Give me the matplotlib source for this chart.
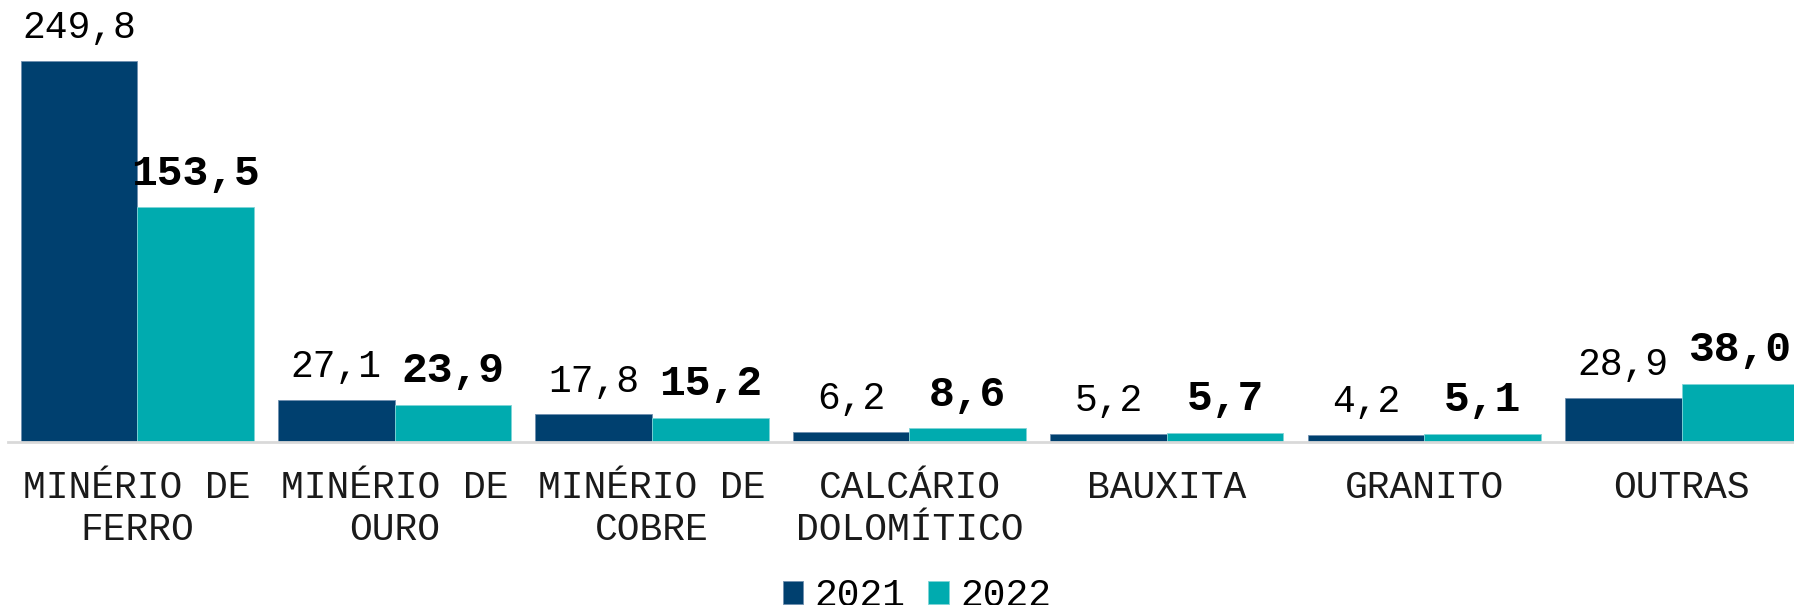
import matplotlib
matplotlib.use("Agg")
import matplotlib.pyplot as plt
import numpy as np

# Dados (milhões de toneladas)
categorias = ["MINÉRIO DE\nFERRO", "MINÉRIO DE\nOURO", "MINÉRIO DE\nCOBRE",
              "CALCÁRIO\nDOLOMÍTICO", "BAUXITA", "GRANITO", "OUTRAS"]
valores_2021 = [249.8, 27.1, 17.8, 6.2, 5.2, 4.2, 28.9]
valores_2022 = [153.5, 23.9, 15.2, 8.6, 5.7, 5.1, 38.0]
anos = ["2021", "2022"]

cor_2021 = "#00406F"
cor_2022 = "#00ABAF"
fonte = "Liberation Mono"

W, H, DPI = 1794, 605, 100
fig = plt.figure(figsize=(W / DPI, H / DPI), dpi=DPI)

# eixo posicionado em pixels
base_y = 441.6
ax = fig.add_axes([8 / W, (H - base_y) / H, 1 - 8 / W, base_y / H])

larg = 0.453
cat_w = 257.4
x0_px = 20.6
esq = -larg - (x0_px - 8) / cat_w
ax.set_xlim(esq, esq + (W - 8) / cat_w)
ax.set_ylim(0, base_y / 1.5254)

x = np.arange(len(categorias))
b1 = ax.bar(x - larg / 2, valores_2021, larg, color=cor_2021, label=anos[0],
            edgecolor="#6F8FAF", linewidth=0.6)
b2 = ax.bar(x + larg / 2, valores_2022, larg, color=cor_2022, label=anos[1],
            edgecolor="#7FD5D7", linewidth=0.6)


def fmt(v):
    return f"{v:.1f}".replace(".", ",")


for barras, vals, peso, tam in [(b1, valores_2021, "normal", 27.4),
                                (b2, valores_2022, "bold", 31)]:
    for r, v in zip(barras, vals):
        ax.annotate(fmt(v), (r.get_x() + r.get_width() / 2, v),
                    xytext=(0, 16.5), textcoords="offset points",
                    ha="center", va="baseline", fontsize=tam,
                    family=fonte, fontweight=peso, color="black")

for s in ["top", "right", "left"]:
    ax.spines[s].set_visible(False)
ax.spines["bottom"].set_color("#D9D9D9")
ax.spines["bottom"].set_linewidth(2)
ax.set_yticks([])
ax.set_xticks(x)
ax.set_xticklabels(categorias, fontsize=27.4, family=fonte, color="#1A1A1A",
                   linespacing=1.22)
ax.tick_params(axis="x", length=0, pad=20.5)

fig.legend(handles=[b1, b2], labels=anos, loc="upper left",
           bbox_to_anchor=(783 / W, 1 - 578 / H), ncol=2, frameon=False,
           prop={"family": fonte, "size": 27.4},
           handlelength=0.53, handleheight=0.53, handletextpad=0.3,
           columnspacing=0.6, borderaxespad=0, borderpad=0)

fig.savefig("out.png", dpi=DPI)
